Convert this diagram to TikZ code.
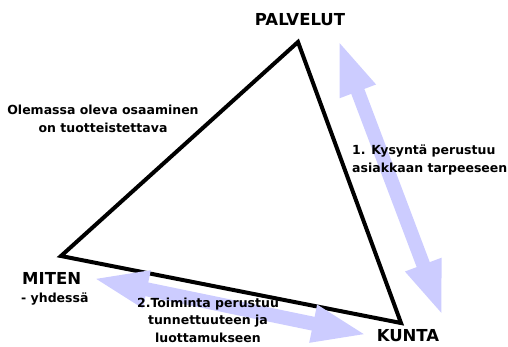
\documentclass[tikz,border=0pt]{standalone}
\usepackage{fontspec}
\setmainfont{DejaVu Sans}
\usetikzlibrary{arrows.meta,positioning}
\definecolor{lavender}{RGB}{204,204,255}

\begin{document}
\begin{tikzpicture}[
  x=1pt, y=-1pt,
  corner/.style={font=\fontsize{16.5}{18}\selectfont\bfseries, inner sep=0pt},
  note/.style={font=\fontsize{12.5}{18}\selectfont\bfseries, inner sep=0pt, align=center},
  side/.style={line width=4pt, line join=miter},
  flow/.style={{Triangle[length=56pt,width=34pt]}-{Triangle[length=56pt,width=34pt]}, line width=14pt, draw=lavender}
]
  \useasboundingbox (0,0) rectangle (508,346);
  % triangle
  \coordinate (pal) at (298,42);
  \coordinate (mit) at (61,256);
  \coordinate (kun) at (401,323);
  \draw[side] (pal) -- (mit) -- (kun) -- cycle;
  % double arrows
  \coordinate (f1a) at (338,39);
  \coordinate (f1b) at (443,317);
  \coordinate (f2a) at (92,278);
  \coordinate (f2b) at (368,335);
  \draw[flow] (f1a) -- (f1b);
  \draw[flow] (f2a) -- (f2b);
  % labels
  \node[corner] (palvelut) at (300,20) {PALVELUT};
  \node[corner, anchor=west] (miten) at (22,278) {MITEN};
  \node[note, anchor=base west] (yhdessa) at (21,302) {- yhdessä};
  \node[corner] (kunta) at (408,336) {KUNTA};
  \node[note] (osaaminen) at (103,119) {Olemassa oleva osaaminen\\on tuotteistettava};
  \node[note, align=left, anchor=west] (kysynta) at (352,160) {1. Kysyntä perustuu\\asiakkaan tarpeeseen};
  \node[note, font=\fontsize{12.5}{17.5}\selectfont\bfseries] (toiminta) at (208,320) {2.Toiminta perustuu\\tunnettuuteen ja\\luottamukseen};
\end{tikzpicture}
\end{document}
